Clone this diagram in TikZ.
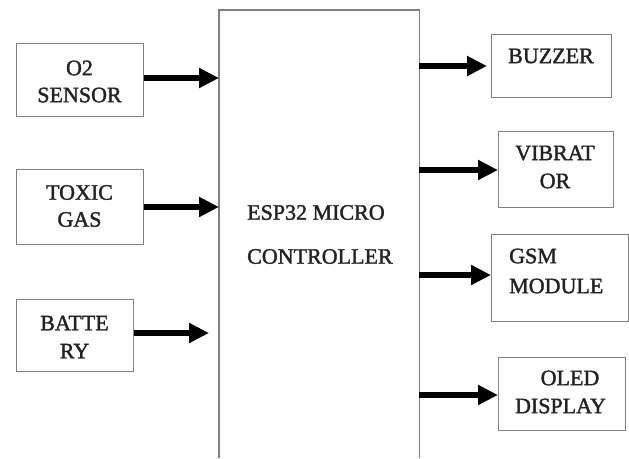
\documentclass[tikz,border=0pt]{standalone}
\usepackage{fontspec}
\setmainfont{Liberation Serif}
\newfontfamily\heavyserif{Liberation Serif}[FakeBold=1.6]
\usetikzlibrary{arrows.meta}
\definecolor{boxgray}{HTML}{808080}
\definecolor{txt}{HTML}{222222}
\tikzset{
  blk/.style={draw=boxgray, line width=1.4pt, rectangle, inner sep=0pt},
  lbl/.style={inner sep=0pt, text=txt, font=\heavyserif\fontsize{22}{27}\selectfont},
  arr/.style={line width=6pt, -{Triangle[length=20pt,width=19pt]}},
}
\begin{document}
\begin{tikzpicture}[x=1pt,y=-1pt]
\useasboundingbox (0,0) rectangle (629,458);
% main controller (open at the bottom)
\node[inner sep=0pt, minimum width=200pt, minimum height=448pt, anchor=north west] (esp) at (219,10) {};
\draw[draw=boxgray, line width=1.4pt] (esp.south west) -- (esp.north west) -- (esp.north east) -- (esp.south east);
\node[lbl, anchor=west, align=left, font=\heavyserif\fontsize{22}{44}\selectfont] (espt) at (247,234.5) {ESP32 MICRO\\CONTROLLER};
% inputs
\node[blk, minimum width=127pt, minimum height=73pt, anchor=north west] (o2) at (16,43) {};
\node[lbl, align=center] (o2t) at (79.5,81.5) {O2\\SENSOR};
\node[blk, minimum width=127pt, minimum height=75pt, anchor=north west] (gas) at (16,169) {};
\node[lbl, align=center] (gast) at (79.5,206) {TOXIC\\GAS};
\node[blk, minimum width=117pt, minimum height=72pt, anchor=north west] (bat) at (16,299) {};
\node[lbl, align=center, font=\heavyserif\fontsize{22}{28}\selectfont] (batt) at (74.5,337) {BATTE\\RY};
% outputs
\node[blk, minimum width=120pt, minimum height=63pt, anchor=north west] (buz) at (491,34) {};
\node[lbl] (buzt) at (551,56) {BUZZER};
\node[blk, minimum width=115pt, minimum height=76pt, anchor=north west] (vib) at (498,131) {};
\node[lbl, align=center, font=\heavyserif\fontsize{22}{28}\selectfont] (vibt) at (555,167) {VIBRAT\\OR};
\node[blk, minimum width=137pt, minimum height=87pt, anchor=north west] (gsm) at (491,234) {};
\node[lbl, anchor=west, align=left, font=\heavyserif\fontsize{22}{30}\selectfont] (gsmt) at (509,271) {GSM\\MODULE};
\node[blk, minimum width=127pt, minimum height=73pt, anchor=north west] (oled) at (498,357) {};
\node[lbl, align=center, font=\heavyserif\fontsize{22}{28}\selectfont] (oledt) at (560.5,392) {\hspace*{19pt}OLED\\DISPLAY};
% connectors
\draw[arr] (o2.east |- 0,78) -- (esp.west |- 0,78);
\draw[arr] (gas.east |- 0,207) -- (esp.west |- 0,207);
\coordinate (batend) at ([xshift=-10pt]esp.west |- 0,333);
\draw[arr] (bat.east |- 0,333) -- (batend);
\coordinate (buzend) at ([xshift=-4pt]buz.west |- 0,66);
\draw[arr] (esp.east |- 0,66) -- (buzend);
\draw[arr] (esp.east |- 0,170) -- (vib.west |- 0,170);
\draw[arr] (esp.east |- 0,275) -- (gsm.west |- 0,275);
\draw[arr] (esp.east |- 0,395) -- (oled.west |- 0,395);
\end{tikzpicture}
\end{document}
